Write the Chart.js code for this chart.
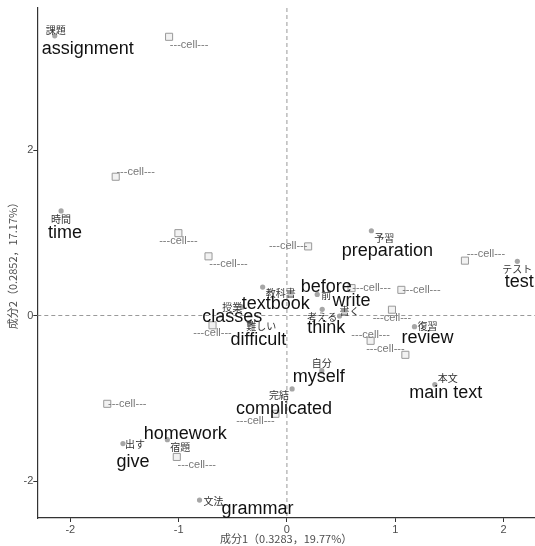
<!DOCTYPE html>
<html>
<head>
<meta charset="utf-8">
<script src="https://cdn.jsdelivr.net/npm/chart.js@4"></script>
<style>
  body { margin: 0; background: #fff; overflow: hidden; }
  canvas { display: block; }
</style>
</head>
<body>
<canvas id="myChart" width="535" height="546"></canvas>
<script>
// 語（点）のデータ
const wordsJa = ['課題', '時間', '予習', 'テスト', '前', '書く', '考える', '復習', '教科書', '授業', '難しい', '自分', '完結', '本文', '出す', '宿題', '文法'];
const wordsEn = ['assignment', 'time', 'preparation', 'test', 'before', 'write', 'think', 'review', 'textbook', 'classes', 'difficult', 'myself', 'complicated', 'main text', 'give', 'homework', 'grammar'];
const wordX = [-2.144, -2.085, 0.780, 2.128, 0.280, 0.486, 0.326, 1.178, -0.224, -0.412, -0.338, 0.322, 0.048, 1.366, -1.514, -1.104, -0.807];
const wordY = [3.380, 1.264, 1.024, 0.655, 0.255, -0.006, 0.075, -0.135, 0.343, 0.102, -0.090, -0.667, -0.887, -0.835, -1.548, -1.500, -2.230];

// 外部変数（セル）のデータ
const cellX = [-1.088, -1.581, -1.002, -0.724, 0.196, 1.644, 1.057, 0.597, 0.970, 0.773, 1.094, -0.687, -1.659, -0.106, -1.017];
const cellY = [3.368, 1.677, 0.995, 0.715, 0.835, 0.663, 0.310, 0.331, 0.070, -0.306, -0.475, -0.118, -1.067, -1.188, -1.709];
const cellLabel = '---cell---';

// 目盛り
const xTicks = [-2, -1, 0, 1, 2];
const yTicks = [-2, 0, 2];
const xTitle = '成分1（0.3283，19.77%）';
const yTitle = '成分2（0.2852，17.17%）';

// ラベルの配置（点からのピクセルずれ）
const jaOffset = [[1, -6], [0, 8], [13, 7], [0, 8], [9, 1], [10, -5], [0, 8], [13, 0], [18, 6], [-10, 0], [11, 3], [0, -7], [-13, 6], [13, -6], [12, 1], [13, 8], [14, 1]];
const enOffset = [[33, 13], [4, 22], [16, 20], [2, 21], [9, -7], [12, -15], [4, 19], [13, 11], [13, 17], [-10, 10], [8, 17], [-3, 6], [-8, 20], [11, 8], [10, 18], [18, -6], [58, 9]];
const cellOffset = [[20, 8], [20, -5], [0, 8], [20, 8], [-20, 0], [21, -7], [20, 0], [20, 0], [0, 8], [0, -6], [-20, -6], [0, 8], [20, 0], [-20, 7], [20, 8]];

const FONT = "'Liberation Sans', 'Noto Sans CJK JP', sans-serif";
const JFONT = "'Noto Sans CJK JP', 'Liberation Sans', sans-serif";

const labelPlugin = {
  id: 'labels',
  beforeDatasetsDraw(chart) {
    // 原点の破線
    const ctx = chart.ctx, a = chart.chartArea;
    const x0 = chart.scales.x.getPixelForValue(0);
    const y0 = chart.scales.y.getPixelForValue(0);
    ctx.save();
    ctx.strokeStyle = '#808080';
    ctx.lineWidth = 0.8;
    ctx.setLineDash([4, 3]);
    ctx.beginPath();
    ctx.moveTo(x0, a.top); ctx.lineTo(x0, a.bottom);
    ctx.moveTo(a.left, y0); ctx.lineTo(a.right, y0);
    ctx.stroke();
    ctx.restore();
  },
  afterDatasetsDraw(chart) {
    const ctx = chart.ctx;
    ctx.save();
    ctx.textAlign = 'center';
    ctx.textBaseline = 'middle';
    chart.getDatasetMeta(1).data.forEach((p, i) => {
      ctx.fillStyle = '#777';
      ctx.font = '11px ' + FONT;
      ctx.fillText(cellLabel, p.x + cellOffset[i][0], p.y + cellOffset[i][1]);
    });
    chart.getDatasetMeta(0).data.forEach((p, i) => {
      ctx.fillStyle = '#333';
      ctx.font = '10px ' + JFONT;
      ctx.fillText(wordsJa[i], p.x + jaOffset[i][0], p.y + jaOffset[i][1]);
      ctx.fillStyle = '#111';
      ctx.font = '18px ' + FONT;
      ctx.fillText(wordsEn[i], p.x + enOffset[i][0], p.y + enOffset[i][1]);
    });
    ctx.restore();
  }
};

const chartArea = document.getElementById('myChart').getContext('2d');

const axisStyle = {
  type: 'linear',
  grid: { drawOnChartArea: false, drawTicks: true, tickLength: 4, color: '#333' },
  border: { display: true, color: '#333', width: 1.2 },
  ticks: { color: '#4d4d4d', font: { size: 11, family: FONT }, includeBounds: false }
};

const myChart = new Chart(chartArea, {
  type: 'scatter',
  data: {
    datasets: [
      {
        label: 'words',
        data: wordX.map((x, i) => ({ x: x, y: wordY[i] })),
        pointRadius: 2.6,
        pointBackgroundColor: '#a6a6a6',
        pointBorderWidth: 0
      },
      {
        label: 'cells',
        data: cellX.map((x, i) => ({ x: x, y: cellY[i] })),
        pointStyle: 'rect',
        pointRadius: 5,
        pointBackgroundColor: '#f2f2f2',
        pointBorderColor: '#999',
        pointBorderWidth: 1
      }
    ]
  },
  options: {
    responsive: false,
    animation: false,
    layout: { autoPadding: false, padding: { top: 8, right: 0, left: 0, bottom: 0 } },
    plugins: { legend: { display: false }, tooltip: { enabled: false } },
    scales: {
      x: Object.assign({}, axisStyle, {
        min: -2.305, max: 2.291,
        afterBuildTicks: s => { s.ticks = xTicks.map(v => ({ value: v })); },
        afterFit: s => { s.height = 28; s.paddingRight = 0; s.paddingLeft = 0; },
        ticks: Object.assign({}, axisStyle.ticks, { padding: 1 }),
        title: { display: true, text: xTitle, color: '#4d4d4d', font: { size: 11, family: JFONT }, padding: { top: 0, bottom: 1 } }
      }),
      y: Object.assign({}, axisStyle, {
        min: -2.447, max: 3.716,
        afterBuildTicks: s => { s.ticks = yTicks.map(v => ({ value: v })); },
        afterFit: s => { s.width = 37.3; s.paddingTop = 0; s.paddingBottom = 0; },
        ticks: Object.assign({}, axisStyle.ticks, { padding: 0 }),
        title: { display: true, text: yTitle, color: '#4d4d4d', font: { size: 11, family: JFONT }, padding: { top: 6, bottom: 0 } }
      })
    }
  },
  plugins: [labelPlugin]
});
</script>
</body>
</html>
